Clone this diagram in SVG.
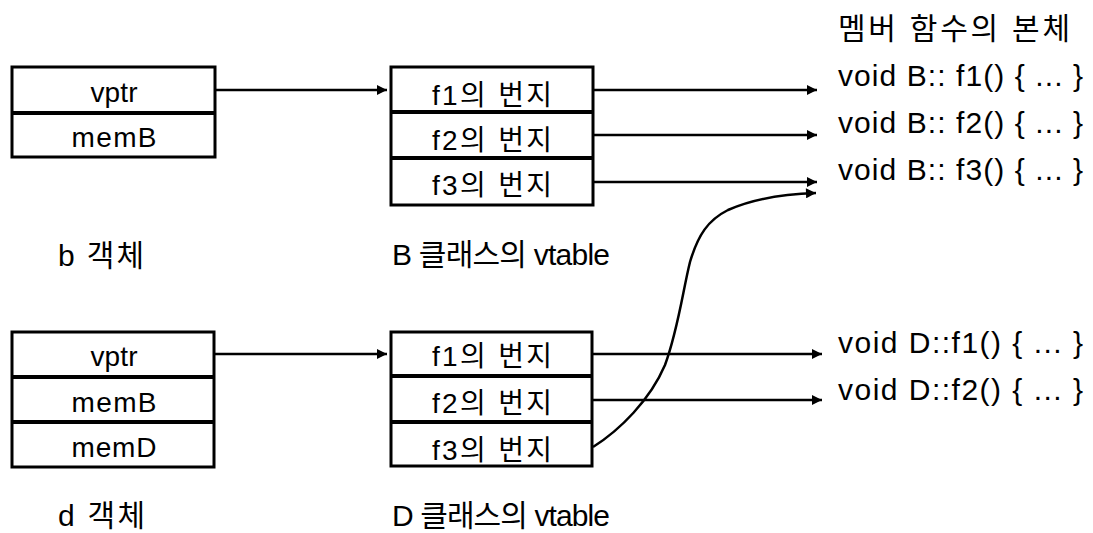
<svg xmlns="http://www.w3.org/2000/svg" width="1093" height="533" viewBox="0 0 1093 533">
  <style>
    text { font-family: "Liberation Sans", "Noto Sans CJK KR", sans-serif; fill: #000; }
    .cell { font-size: 28px; text-anchor: middle; }
    .lbl { font-size: 30px; }
    .box { fill: #fff; stroke: #000; stroke-width: 3; }
    .div { stroke: #000; stroke-width: 4; }
    .conn { fill: none; stroke: #000; stroke-width: 2.5; }
  </style>
  <defs>
    <marker id="arrow" viewBox="0 0 10 10" refX="10" refY="5" markerWidth="12" markerHeight="10" markerUnits="userSpaceOnUse" orient="auto">
      <path d="M0,0 L10,5 L0,10 z" fill="#000"/>
    </marker>
  </defs>
  <rect width="1093" height="533" fill="#fff"/>

  <!-- object b -->
  <g id="obj-b">
    <rect class="box" x="12" y="67" width="203" height="90"/>
    <line class="div" x1="12" y1="113" x2="215" y2="113"/>
    <text class="cell" x="114" y="102" textLength="47" lengthAdjust="spacing">vptr</text>
    <text class="cell" x="114" y="147" textLength="85" lengthAdjust="spacing">memB</text>
    <text class="lbl" x="58" y="266" textLength="86" lengthAdjust="spacing">b 객체</text>
  </g>

  <!-- vtable of class B -->
  <g id="vtable-b">
    <rect class="box" x="391" y="67" width="202" height="138"/>
    <line class="div" x1="391" y1="112" x2="593" y2="112"/>
    <line class="div" x1="391" y1="158" x2="593" y2="158"/>
    <text class="cell" x="492" y="105" textLength="120" lengthAdjust="spacing">f1의 번지</text>
    <text class="cell" x="492" y="150" textLength="120" lengthAdjust="spacing">f2의 번지</text>
    <text class="cell" x="492" y="195" textLength="120" lengthAdjust="spacing">f3의 번지</text>
    <text class="lbl" x="392" y="265" textLength="218" lengthAdjust="spacing">B 클래스의 vtable</text>
  </g>

  <!-- member function bodies -->
  <g id="bodies">
    <text class="lbl" x="838" y="39" textLength="232" lengthAdjust="spacing">멤버 함수의 본체</text>
    <text class="lbl" x="838" y="86" textLength="245" lengthAdjust="spacing">void B:: f1() { ... }</text>
    <text class="lbl" x="838" y="133" textLength="245" lengthAdjust="spacing">void B:: f2() { ... }</text>
    <text class="lbl" x="838" y="180" textLength="245" lengthAdjust="spacing">void B:: f3() { ... }</text>
    <text class="lbl" x="838" y="353" textLength="245" lengthAdjust="spacing">void D::f1() { ... }</text>
    <text class="lbl" x="838" y="400" textLength="245" lengthAdjust="spacing">void D::f2() { ... }</text>
  </g>

  <!-- object d -->
  <g id="obj-d">
    <rect class="box" x="12" y="332" width="202" height="135"/>
    <line class="div" x1="12" y1="377" x2="214" y2="377"/>
    <line class="div" x1="12" y1="422" x2="214" y2="422"/>
    <text class="cell" x="114" y="366" textLength="47" lengthAdjust="spacing">vptr</text>
    <text class="cell" x="114" y="412" textLength="85" lengthAdjust="spacing">memB</text>
    <text class="cell" x="114" y="457" textLength="85" lengthAdjust="spacing">memD</text>
    <text class="lbl" x="58" y="526" textLength="87" lengthAdjust="spacing">d 객체</text>
  </g>

  <!-- vtable of class D -->
  <g id="vtable-d">
    <rect class="box" x="391" y="332" width="201" height="134"/>
    <line class="div" x1="391" y1="376" x2="592" y2="376"/>
    <line class="div" x1="391" y1="422" x2="592" y2="422"/>
    <text class="cell" x="492" y="366" textLength="120" lengthAdjust="spacing">f1의 번지</text>
    <text class="cell" x="492" y="413" textLength="120" lengthAdjust="spacing">f2의 번지</text>
    <text class="cell" x="492" y="460" textLength="120" lengthAdjust="spacing">f3의 번지</text>
    <text class="lbl" x="392" y="526" textLength="218" lengthAdjust="spacing">D 클래스의 vtable</text>
  </g>

  <!-- pointers -->
  <g id="connectors">
    <line class="conn" x1="215" y1="90" x2="387" y2="90" marker-end="url(#arrow)"/>
    <line class="conn" x1="593" y1="90" x2="817" y2="90" marker-end="url(#arrow)"/>
    <line class="conn" x1="593" y1="135" x2="817" y2="135" marker-end="url(#arrow)"/>
    <line class="conn" x1="593" y1="182" x2="817" y2="182" marker-end="url(#arrow)"/>
    <line class="conn" x1="214" y1="354" x2="387" y2="354" marker-end="url(#arrow)"/>
    <line class="conn" x1="592" y1="354" x2="822" y2="354" marker-end="url(#arrow)"/>
    <line class="conn" x1="592" y1="400" x2="822" y2="400" marker-end="url(#arrow)"/>
    <path class="conn" d="M593,447 C620,430 650,400 665,365 C678,330 683,290 690,262 C698,235 708,220 728,210 C755,198 785,194 816,193" marker-end="url(#arrow)"/>
  </g>
</svg>
